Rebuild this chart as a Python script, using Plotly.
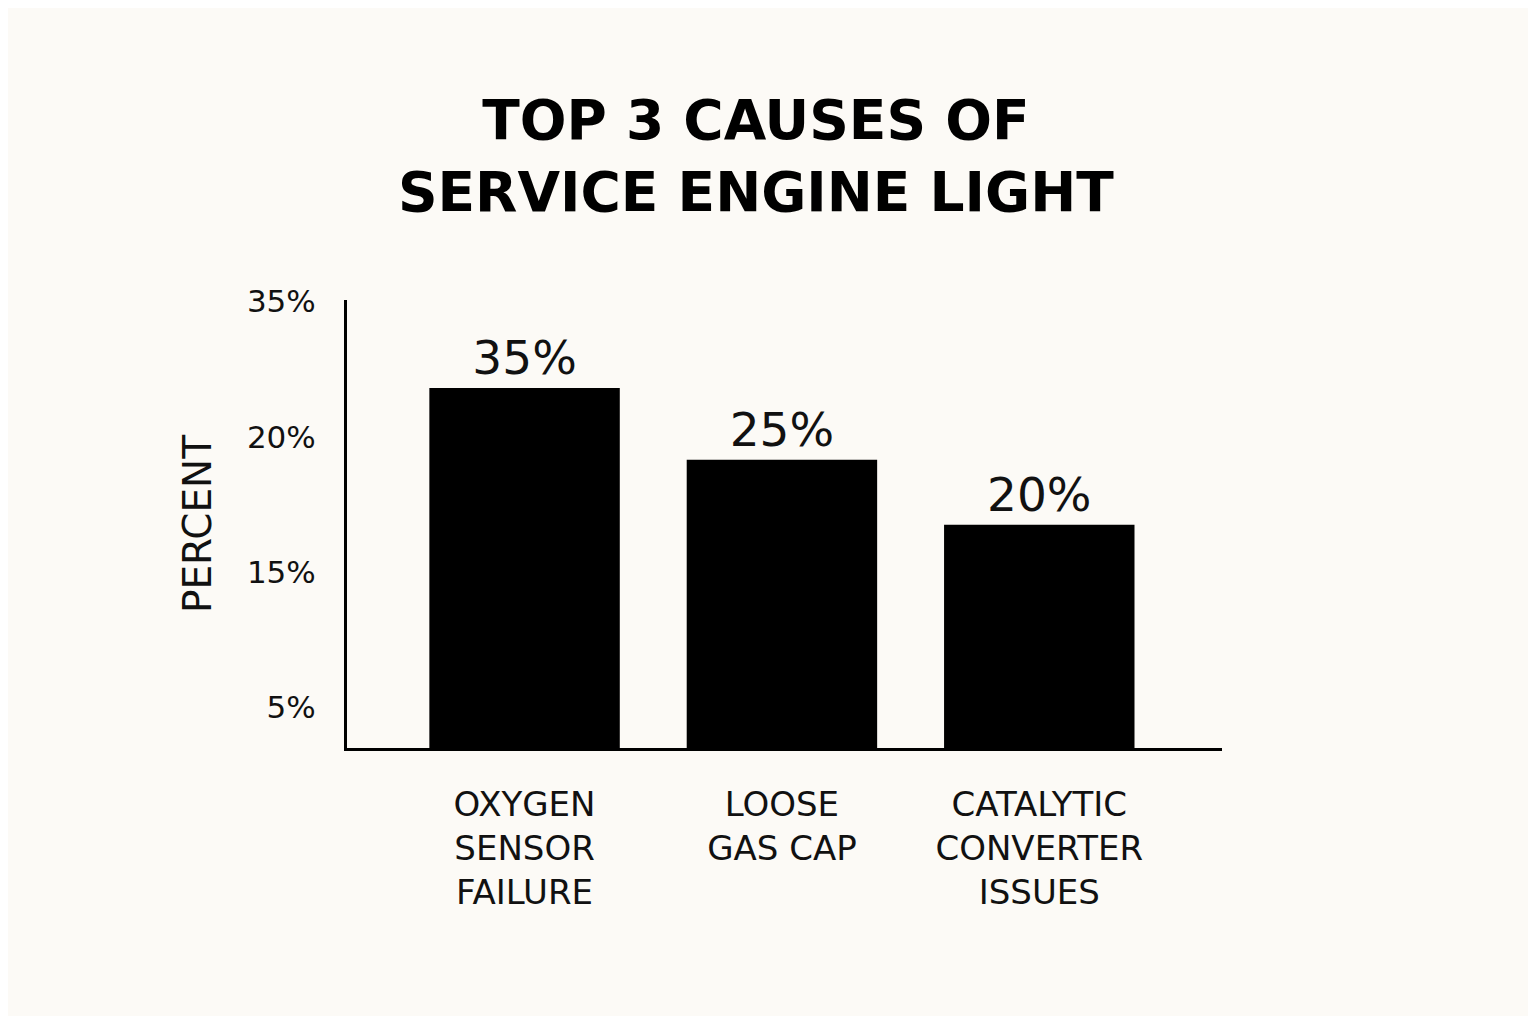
import plotly.graph_objects as go

# data
categories = ["OXYGEN<br>SENSOR<br>FAILURE", "LOOSE<br>GAS CAP", "CATALYTIC<br>CONVERTER<br>ISSUES"]
value_labels = ["35%", "25%", "20%"]
# bar heights in axis units (tick spacing = 1 unit), as drawn in the picture
bar_heights = [2.66, 2.13, 1.65]
tick_positions = [0.3, 1.3, 2.3, 3.3]
tick_labels = ["5%", "15%", "20%", "35%"]

font = "'DejaVu Sans', sans-serif"
bg = "#fcfaf6"

fig = go.Figure(go.Bar(
    x=list(range(len(categories))),
    y=bar_heights,
    width=0.74,
    marker=dict(color="#000000", line=dict(width=0)),
    text=value_labels,
    textposition="outside",
    textfont=dict(size=47, color="#111111", family=font),
    cliponaxis=False,
))

fig.update_layout(
    width=1520, height=1008,
    paper_bgcolor=bg, plot_bgcolor=bg,
    margin=dict(l=339, r=306, t=292, b=268),
    showlegend=False,
    title=dict(
        text="<b>TOP 3 CAUSES OF<br>SERVICE ENGINE LIGHT</b>",
        x=0.492, xanchor="center", y=0.87, yanchor="middle",
        font=dict(size=55, color="#000000", family=font),
    ),
    xaxis=dict(
        range=[-0.69, 2.71],
        tickvals=list(range(len(categories))),
        ticktext=categories,
        tickfont=dict(size=34, color="#111111", family=font),
        showgrid=False, zeroline=False,
        showline=True, linecolor="#000000", linewidth=3,
        ticks="", ticklabelstandoff=24,
    ),
    yaxis=dict(
        range=[0, 3.31],
        tickvals=tick_positions,
        ticktext=tick_labels,
        tickfont=dict(size=31, color="#111111", family=font),
        showgrid=False, zeroline=False,
        showline=True, linecolor="#000000", linewidth=3,
        ticks="", ticklabelstandoff=22,
        title=dict(text="PERCENT", font=dict(size=39, color="#111111", family=font), standoff=24),
    ),
)

fig.write_html("out.html")
